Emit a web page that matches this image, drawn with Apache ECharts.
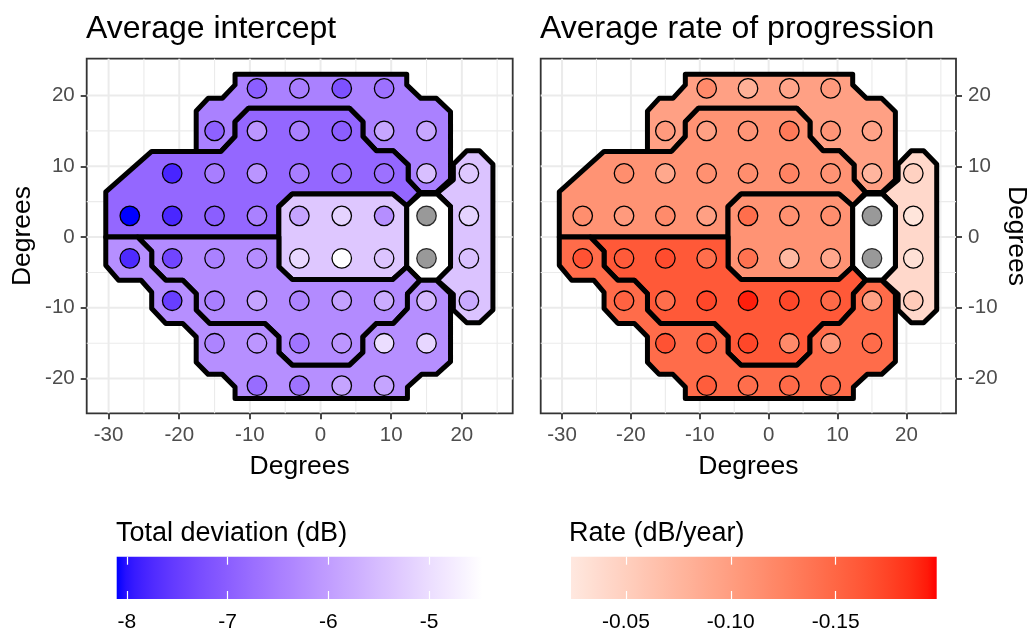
<!DOCTYPE html>
<html>
<head>
<meta charset="utf-8">
<script src="https://cdn.jsdelivr.net/npm/echarts@6/dist/echarts.min.js"></script>
<style>html,body{margin:0;padding:0;background:#fff}#c{width:1031px;height:633px}</style>
</head>
<body>
<div id="c"></div>
<script>
// ---------------- DATA ----------------
const rowY = [21, 15, 9, 3, -3, -9, -15, -21];
const rowX = [
  [-9, -3, 3, 9],
  [-15, -9, -3, 3, 9, 15],
  [-21, -15, -9, -3, 3, 9, 15, 21],
  [-27, -21, -15, -9, -3, 3, 9, 15, 21],
  [-27, -21, -15, -9, -3, 3, 9, 15, 21],
  [-21, -15, -9, -3, 3, 9, 15, 21],
  [-15, -9, -3, 3, 9, 15],
  [-9, -3, 3, 9]
];
// average intercept (dB); null = blind spot
const interceptRows = [
  [-7.0, -6.5, -7.2, -6.7],
  [-6.95, -6.1, -6.45, -7.0, -5.87, -5.85],
  [-7.8, -6.5, -6.13, -6.5, -6.75, -6.7, -5.46, -5.32],
  [-8.1, -7.78, -7.0, -6.45, -5.9, -5.15, -6.24, null, -5.15],
  [-7.75, -7.37, -6.45, -6.25, -5.07, -4.47, -5.38, null, -5.45],
  [-7.48, -6.48, -5.9, -6.4, -5.95, -5.77, -5.57, -5.8],
  [-6.4, -6.1, -6.65, -6.1, -5.0, -5.1],
  [-6.78, -6.68, -5.9, -5.9]
];
// average rate of progression (dB/year)
const rateRows = [
  [-0.119, -0.081, -0.092, -0.103],
  [-0.103, -0.097, -0.108, -0.133, -0.108, -0.094],
  [-0.115, -0.089, -0.112, -0.115, -0.125, -0.110, -0.076, -0.048],
  [-0.115, -0.103, -0.118, -0.097, -0.143, -0.112, -0.115, null, -0.027],
  [-0.165, -0.159, -0.169, -0.143, -0.140, -0.073, -0.089, null, -0.031],
  [-0.153, -0.143, -0.173, -0.192, -0.173, -0.147, -0.097, -0.054],
  [-0.165, -0.159, -0.173, -0.119, -0.103, -0.145],
  [-0.157, -0.143, -0.147, -0.143]
];

// sector outlines (degrees)
const sectorSupPeripheral = [[-12.1,23],[12.2,23],[12.2,21.5],[14.2,19.6],[16.4,19.6],[18.4,17.7],[18.4,8.1],[16.4,6.3],[14.1,6.3],[12.4,8.1],[12.4,10.2],[10.3,12.2],[7.9,12.2],[6,14.2],[6,16.3],[4.1,18.2],[-10.2,18.2],[-12.1,16.3],[-12.1,14.2],[-14.1,12.1],[-17.6,12.1],[-17.6,17.8],[-15.9,19.6],[-13.9,19.6],[-12.1,21.5]];
const sectorSupCentral = [[-30.4,0],[-30.4,6.4],[-23.9,12.1],[-14.1,12.1],[-12.1,14.2],[-12.1,16.3],[-10.2,18.2],[4.1,18.2],[6,16.3],[6,14.2],[7.9,12.2],[10.3,12.2],[12.4,10.2],[12.4,8.1],[14.1,6.3],[12.2,4.4],[10.2,6.1],[-4,6.1],[-5.9,4.3],[-5.9,0]];
const sectorMacula = [[-5.9,4.3],[-4,6.1],[10.2,6.1],[12.2,4.4],[12.2,-4.2],[10.2,-6],[-4,-6],[-5.9,-4.2]];
const sectorBlindSpot = [[12.2,4.4],[14.1,6.1],[16.5,6.1],[18.4,4.3],[18.4,-4.2],[16.5,-6.1],[14.1,-6.1],[12.2,-4.2]];
const sectorTemporal = [[18.8,10.3],[20.7,12.2],[22.5,12.2],[24.4,10.3],[24.4,-10.3],[22.5,-12.1],[20.7,-12.1],[18.8,-10.3],[18.8,-8.1],[16.5,-6.1],[18.4,-4.2],[18.4,4.3],[16.5,6.2],[18.8,8.1]];
const sectorInfCentral = [[-25.9,0],[-5.9,0],[-5.9,-4.2],[-4,-6],[10.2,-6],[12.2,-4.2],[14.1,-6.1],[12.3,-8],[12.3,-10.1],[10.3,-12.2],[7.9,-12.2],[6,-14.1],[6,-16.3],[4.1,-18.1],[-4,-18.1],[-5.9,-16.3],[-5.9,-14.1],[-7.9,-12.2],[-15.7,-12.2],[-17.6,-10.3],[-17.6,-8],[-19.5,-6.1],[-21.9,-6.1],[-23.9,-4.1],[-23.9,-2]];
const sectorInfPeripheral = [[-30.4,0],[-25.9,0],[-23.9,-2],[-23.9,-4.1],[-21.9,-6.1],[-19.5,-6.1],[-17.6,-8],[-17.6,-10.3],[-15.7,-12.2],[-7.9,-12.2],[-5.9,-14.1],[-5.9,-16.3],[-4,-18.1],[4.1,-18.1],[6,-16.3],[6,-14.1],[7.9,-12.2],[10.3,-12.2],[12.3,-10.1],[12.3,-8],[14.1,-6.1],[16.4,-6.1],[18.4,-8],[18.4,-17.6],[16.4,-19.4],[14.3,-19.4],[12.3,-21.2],[12.3,-22.8],[-12.1,-22.8],[-12.1,-21.2],[-13.9,-19.4],[-15.9,-19.4],[-17.6,-17.7],[-17.6,-14.1],[-19.5,-12.2],[-21.9,-12.2],[-23.9,-10.1],[-23.9,-7.8],[-25.4,-6.1],[-28.6,-6.1],[-30.4,-4]];
const sectors = [sectorTemporal, sectorSupPeripheral, sectorSupCentral, sectorMacula, sectorBlindSpot, sectorInfCentral, sectorInfPeripheral];
const sectorIntercept = [-5.4, -6.45, -6.86, -5.33, null, -6.28, -6.22];
const sectorRate = [-0.040, -0.097, -0.110, -0.110, null, -0.160, -0.145];

// axes
const xMajor = [-30, -20, -10, 0, 10, 20];
const xMinor = [-25, -15, -5, 5, 15, 25];
const yMajor = [-20, -10, 0, 10, 20];
const yMinor = [-15, -5, 5, 15];
const interceptTicks = [-8, -7, -6, -5];
const rateTicks = [-0.05, -0.10, -0.15];
const interceptRange = [-8.1, -4.47];
const rateRange = [-0.1982, -0.0238];

// ---------------- STYLE / LAYOUT ----------------
const FONT = "'Liberation Sans', Arial, Helvetica, sans-serif";
const X_EXT = [-33.1, 27.2], Y_EXT = [-24.9, 25.2];
const PTOP = 58.7, PW = 426, PH = 354.6, PL0 = 86.7, PL1 = 540.7;

// Lab interpolation (as ggplot does)
function s2l(c){c/=255;return c<=0.04045?c/12.92:Math.pow((c+0.055)/1.055,2.4);}
function l2s(c){c=c<=0.0031308?12.92*c:1.055*Math.pow(c,1/2.4)-0.055;return Math.round(Math.max(0,Math.min(1,c))*255);}
function hexToLab(h){
  const r=s2l(parseInt(h.slice(1,3),16)),g=s2l(parseInt(h.slice(3,5),16)),b=s2l(parseInt(h.slice(5,7),16));
  const X=(0.4124*r+0.3576*g+0.1805*b)/0.95047,Y=0.2126*r+0.7152*g+0.0722*b,Z=(0.0193*r+0.1192*g+0.9505*b)/1.08883;
  const f=t=>t>0.008856?Math.cbrt(t):(7.787*t+16/116);
  const fx=f(X),fy=f(Y),fz=f(Z);
  return [116*fy-16,500*(fx-fy),200*(fy-fz)];
}
function labToHex(l){
  const fy=(l[0]+16)/116,fx=fy+l[1]/500,fz=fy-l[2]/200;
  const fi=t=>t>0.206893?t*t*t:(t-16/116)/7.787;
  const X=0.95047*fi(fx),Y=fi(fy),Z=1.08883*fi(fz);
  const r=3.2406*X-1.5372*Y-0.4986*Z,g=-0.9689*X+1.8758*Y+0.0415*Z,b=0.0557*X-0.2040*Y+1.0570*Z;
  return '#'+[r,g,b].map(c=>l2s(c).toString(16).padStart(2,'0')).join('');
}
function labMix(a,b,t){const A=hexToLab(a),B=hexToLab(b);return labToHex([0,1,2].map(i=>A[i]+(B[i]-A[i])*t));}
const N=32;
const blueStops=[],redStops=[];
for(let i=0;i<=N;i++){blueStops.push(labMix('#0000ff','#ffffff',i/N));redStops.push(labMix('#ff0000','#ffffff',i/N));}
function blueColor(v){return labMix('#0000ff','#ffffff',(v-interceptRange[0])/(interceptRange[1]-interceptRange[0]));}
function redColor(v){return labMix('#ff0000','#ffffff',(v-rateRange[0])/(0-rateRange[0]));}

// points
const pts=[];
rowY.forEach((y,r)=>rowX[r].forEach((x,c)=>pts.push({x:x,y:y,ic:interceptRows[r][c],rt:rateRows[r][c]})));
const leftPts=pts.filter(p=>p.ic!=null).map(p=>[p.x,p.y,p.ic]);
const rightPts=pts.filter(p=>p.rt!=null).map(p=>[p.x,p.y,p.rt]);
const blindPts=pts.filter(p=>p.ic==null).map(p=>[p.x,p.y]);

// grid lines
const gridLines=[];
xMajor.forEach(v=>gridLines.push({v:v,d:'x',m:1}));
xMinor.forEach(v=>gridLines.push({v:v,d:'x',m:0}));
yMajor.forEach(v=>gridLines.push({v:v,d:'y',m:1}));
yMinor.forEach(v=>gridLines.push({v:v,d:'y',m:0}));

function gridRender(params,api){
  const g=gridLines[params.dataIndex];
  let p1,p2;
  if(g.d==='x'){p1=api.coord([g.v,Y_EXT[0]]);p2=api.coord([g.v,Y_EXT[1]]);}
  else{p1=api.coord([X_EXT[0],g.v]);p2=api.coord([X_EXT[1],g.v]);}
  return {type:'line',shape:{x1:p1[0],y1:p1[1],x2:p2[0],y2:p2[1]},style:{stroke:'#ebebeb',lineWidth:g.m?2:1.1}};
}
function sectorRender(vals){
  return function(params,api){
    const i=params.dataIndex;
    const p=sectors[i].map(q=>api.coord(q));
    return {type:'polygon',shape:{points:p},style:{fill:vals[i]==null?'#ffffff':api.visual('color'),stroke:'#000',lineWidth:5,lineJoin:'round'}};
  };
}
function barRender(leftVal,rightVal,colorFn){
  return function(params,api){
    const a=api.coord([leftVal,1]),b=api.coord([rightVal,0]);
    const x0=Math.min(a[0],b[0]),w=Math.abs(b[0]-a[0]),y0=Math.min(a[1],b[1]),h=Math.abs(b[1]-a[1]);
    const stops=[];
    for(let i=0;i<=40;i++){const s=i/40;stops.push({offset:s,color:colorFn(a[0]<b[0]?leftVal+(rightVal-leftVal)*s:rightVal+(leftVal-rightVal)*s)});}
    return {type:'rect',shape:{x:x0,y:y0,width:w,height:h},style:{fill:new echarts.graphic.LinearGradient(0,0,1,0,stops)}};
  };
}

function panelX(gi){
  return {gridIndex:gi,type:'value',min:X_EXT[0],max:X_EXT[1],
    axisLine:{show:false,onZero:false},splitLine:{show:false},
    axisTick:{show:true,length:6,lineStyle:{color:'#333',width:1.8},customValues:xMajor},
    axisLabel:{color:'#4d4d4d',fontSize:20.5,fontFamily:FONT,margin:12,customValues:xMajor},
    name:'Degrees',nameLocation:'middle',nameGap:40,nameTextStyle:{fontSize:26.5,color:'#000',fontFamily:FONT}};
}
function panelY(gi,pos){
  return {gridIndex:gi,type:'value',min:Y_EXT[0],max:Y_EXT[1],position:pos,
    axisLine:{show:false,onZero:false},splitLine:{show:false},
    axisTick:{show:true,length:6,lineStyle:{color:'#333',width:1.8},customValues:yMajor},
    axisLabel:{color:'#4d4d4d',fontSize:20.5,fontFamily:FONT,margin:12,customValues:yMajor},
    name:'Degrees',nameLocation:'middle',nameGap:pos==='left'?51:47,nameRotate:pos==='left'?90:-90,
    nameTextStyle:{fontSize:26.5,color:'#000',fontFamily:FONT}};
}
function legendX(gi,range,ticks,inverse,pos,labels,fmt){
  return {gridIndex:gi,type:'value',min:range[0],max:range[1],inverse:inverse,position:pos,z:10,
    axisLine:{show:false,onZero:false},splitLine:{show:false},
    axisTick:{show:true,inside:true,length:8,lineStyle:{color:'#ffffff',width:1.2},customValues:ticks},
    axisLabel:{show:labels,color:'#000',fontSize:21,fontFamily:FONT,margin:13,customValues:ticks,formatter:fmt}};
}

const option={
  animation:false,
  backgroundColor:'#ffffff',
  title:[
    {text:'Average intercept',left:86,top:13,padding:0,textStyle:{fontSize:32,fontWeight:'normal',color:'#000',fontFamily:FONT}},
    {text:'Average rate of progression',left:540,top:13,padding:0,textStyle:{fontSize:32,fontWeight:'normal',color:'#000',fontFamily:FONT}},
    {text:'Total deviation (dB)',left:116,top:520,padding:0,textStyle:{fontSize:27,fontWeight:'normal',color:'#000',fontFamily:FONT}},
    {text:'Rate (dB/year)',left:569,top:520,padding:0,textStyle:{fontSize:27,fontWeight:'normal',color:'#000',fontFamily:FONT}}
  ],
  grid:[
    {left:PL0,top:PTOP,width:PW,height:PH,show:true,backgroundColor:'#fff',borderColor:'#333',borderWidth:1.8,containLabel:false},
    {left:PL1,top:PTOP,width:PW,height:PH,show:true,backgroundColor:'#fff',borderColor:'#333',borderWidth:1.8,containLabel:false},
    {left:116.7,top:556.7,width:365.7,height:42.3,show:false},
    {left:571,top:556.7,width:365.7,height:42.3,show:false}
  ],
  xAxis:[
    panelX(0),panelX(1),
    legendX(2,interceptRange,interceptTicks,false,'bottom',true,v=>String(v)),
    legendX(2,interceptRange,interceptTicks,false,'top',false),
    legendX(3,rateRange,rateTicks,true,'bottom',true,v=>Number(v).toFixed(2)),
    legendX(3,rateRange,rateTicks,true,'top',false)
  ],
  yAxis:[
    panelY(0,'left'),panelY(1,'right'),
    {gridIndex:2,type:'value',min:0,max:1,show:false},
    {gridIndex:3,type:'value',min:0,max:1,show:false}
  ],
  visualMap:[
    {type:'continuous',show:false,seriesIndex:[1,2],dimension:2,min:interceptRange[0],max:interceptRange[1],inRange:{color:blueStops}},
    {type:'continuous',show:false,seriesIndex:[5,6],dimension:2,min:rateRange[0],max:0,inRange:{color:redStops}}
  ],
  series:[
    {type:'custom',xAxisIndex:0,yAxisIndex:0,z:1,silent:true,renderItem:gridRender,data:gridLines.map((g,i)=>[i,0])},
    {type:'custom',xAxisIndex:0,yAxisIndex:0,z:2,silent:true,renderItem:sectorRender(sectorIntercept),data:sectorIntercept.map((v,i)=>[i,0,v==null?NaN:v])},
    {type:'scatter',xAxisIndex:0,yAxisIndex:0,z:3,silent:true,symbol:'circle',symbolSize:19.5,itemStyle:{borderColor:'#000',borderWidth:1.3,opacity:1},data:leftPts},
    {type:'scatter',xAxisIndex:0,yAxisIndex:0,z:3,silent:true,symbol:'circle',symbolSize:19.5,itemStyle:{color:'#7f7f7f',borderColor:'#000',borderWidth:1.3},data:blindPts},
    {type:'custom',xAxisIndex:1,yAxisIndex:1,z:1,silent:true,renderItem:gridRender,data:gridLines.map((g,i)=>[i,0])},
    {type:'custom',xAxisIndex:1,yAxisIndex:1,z:2,silent:true,renderItem:sectorRender(sectorRate),data:sectorRate.map((v,i)=>[i,0,v==null?NaN:v])},
    {type:'scatter',xAxisIndex:1,yAxisIndex:1,z:3,silent:true,symbol:'circle',symbolSize:19.5,itemStyle:{borderColor:'#000',borderWidth:1.3,opacity:1},data:rightPts},
    {type:'scatter',xAxisIndex:1,yAxisIndex:1,z:3,silent:true,symbol:'circle',symbolSize:19.5,itemStyle:{color:'#7f7f7f',borderColor:'#000',borderWidth:1.3},data:blindPts},
    {type:'custom',xAxisIndex:2,yAxisIndex:2,z:1,silent:true,renderItem:barRender(interceptRange[0],interceptRange[1],blueColor),data:[[interceptRange[0],0]]},
    {type:'custom',xAxisIndex:4,yAxisIndex:3,z:1,silent:true,renderItem:barRender(rateRange[1],rateRange[0],redColor),data:[[rateRange[1],0]]}
  ]
};
const chart=echarts.init(document.getElementById('c'));
chart.setOption(option);
</script>
</body>
</html>
